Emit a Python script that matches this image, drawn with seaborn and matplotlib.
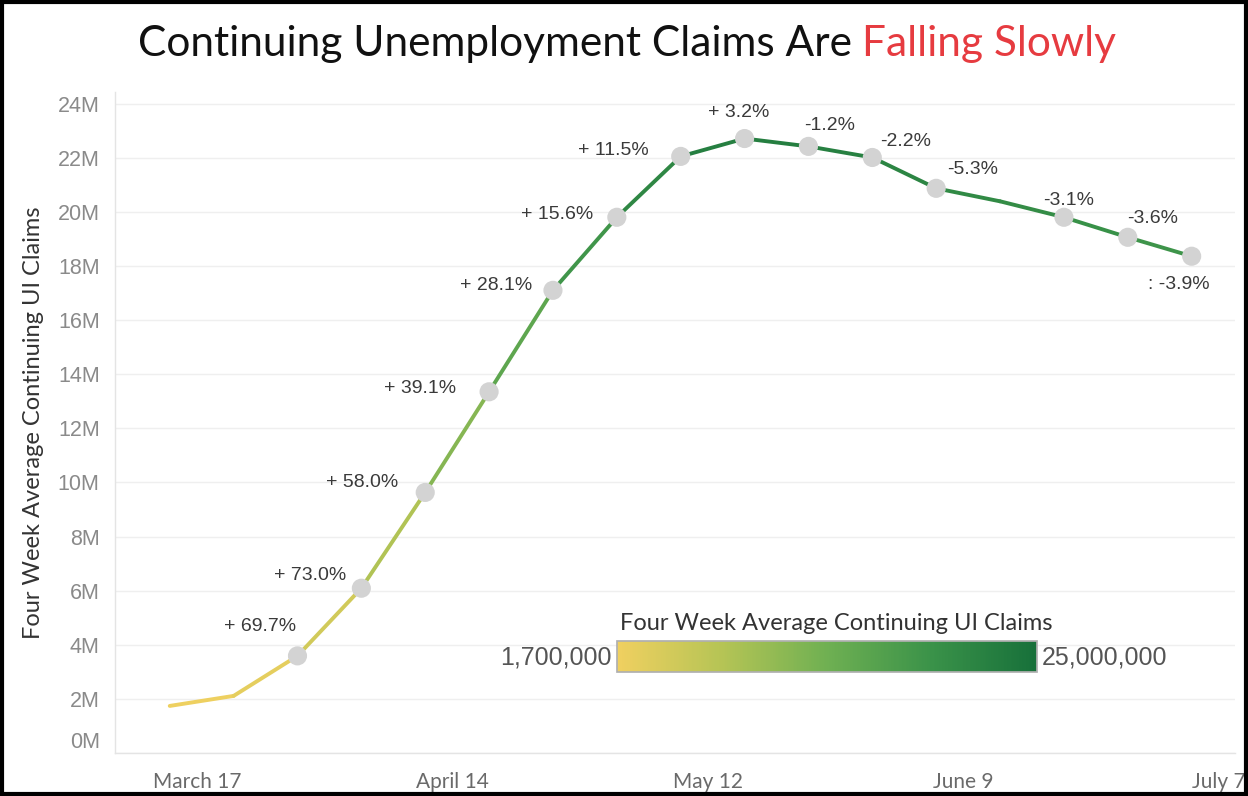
import numpy as np
import pandas as pd
import matplotlib
matplotlib.use('Agg')
import matplotlib.pyplot as plt
import matplotlib.dates as mdates
import matplotlib.ticker as mticker
from matplotlib.collections import LineCollection
from matplotlib.colors import LinearSegmentedColormap, Normalize
from matplotlib.patches import Rectangle
import seaborn as sns

# Weekly four week average continuing UI claims (millions)
weeks = pd.date_range('2020-03-14', periods=17, freq='7D')
claims = [1.74, 2.11, 3.59, 6.09, 9.63, 13.35, 17.10, 19.80, 22.05,
          22.71, 22.42, 22.01, 20.87, 20.39, 19.80, 19.06, 18.36]
pct_labels = [None, None, '+ 69.7%', '+ 73.0%', '+ 58.0%', '+ 39.1%',
              '+ 28.1%', '+ 15.6%', '+ 11.5%', '+ 3.2%', '-1.2%', '-2.2%',
              '-5.3%', None, '-3.1%', '-3.6%', ': -3.9%']
tick_dates = pd.date_range('2020-03-17', periods=5, freq='28D')
tick_names = ['March 17', 'April 14', 'May 12', 'June 9', 'July 7']
legend_min, legend_max = 1.7, 25.0

# label offsets in pixels (dx, dy), dy positive = up
label_offsets = [None, None, (-37, 29), (-51, 13), (-63, 10), (-69, 3),
                 (-57, 5), (-60, 3), (-67, 6), (-6, 26), (21, 21), (33, 16),
                 (36, 19), None, (5, 17), (25, 19), (-13, -28)]

df = pd.DataFrame({'week': weeks, 'claims': claims, 'label': pct_labels})

sns.set_theme(style='white')
plt.rcParams['font.family'] = ['Liberation Sans', 'DejaVu Sans']

cmap = LinearSegmentedColormap.from_list(
    'ylgn', ['#f0d060', '#b5c455', '#6fb052', '#3a9249', '#17703a'])
norm = Normalize(legend_min, legend_max)

fig = plt.figure(figsize=(12.48, 7.96), dpi=100)
ax = fig.add_axes([115 / 1248, 43 / 796, 1120 / 1248, 661 / 796])

# gradient coloured line, one segment per week
xnum = mdates.date2num(df['week'])
pts = np.column_stack([xnum, df['claims']])
segs = np.stack([pts[:-1], pts[1:]], axis=1)
seg_vals = (df['claims'].values[:-1] + df['claims'].values[1:]) / 2
lc = LineCollection(segs, colors=cmap(norm(seg_vals)), linewidths=2.8,
                    capstyle='round', joinstyle='round', zorder=2)
ax.add_collection(lc)

# grey markers where a change label exists
marked = df[df['label'].notna()]
sns.scatterplot(data=marked, x='week', y='claims', color='#d3d3d3', s=190,
                edgecolor='none', zorder=3, ax=ax)

for i, row in df.iterrows():
    if row['label'] is None:
        continue
    dx, dy = label_offsets[i]
    ax.annotate(row['label'], (mdates.date2num(row['week']), row['claims']),
                xytext=(dx, dy), textcoords='offset pixels', ha='center',
                va='center', fontsize=14, color='#3a3a3a')

ax.set_xlim(pd.Timestamp('2020-03-08'), pd.Timestamp('2020-07-08 18:00'))
ax.set_ylim(0, 24.43)
ax.set_yticks(range(0, 25, 2))
ax.yaxis.set_major_formatter(mticker.FuncFormatter(lambda v, p: f'{int(v)}M'))
ax.set_xticks(tick_dates)
ax.set_xticklabels(tick_names)
ax.xaxis.set_minor_locator(mticker.FixedLocator(
    mdates.date2num(pd.date_range('2020-03-17', '2020-07-07', freq='7D'))))

ax.grid(axis='y', color='#efefef', lw=1)
ax.set_axisbelow(True)
for s in ['top', 'right']:
    ax.spines[s].set_visible(False)
for s in ['left', 'bottom']:
    ax.spines[s].set_color('#e4e4e4')
    ax.spines[s].set_linewidth(1)

ax.tick_params(axis='y', length=0, pad=11, labelsize=15.5, labelcolor='#8a8a8a')
ax.tick_params(axis='x', which='major', length=6, width=1, color='#999999',
               pad=8, labelsize=15, labelcolor='#6a6a6a')
ax.tick_params(axis='x', which='minor', length=3, width=1, color='#aaaaaa')
for lab in ax.get_xticklabels():
    lab.set_family(['Lato', 'DejaVu Sans'])
ylabs = ax.get_yticklabels()
ylabs[0].set_verticalalignment('bottom')

ax.set_xlabel('')
ax.set_ylabel('Four Week Average Continuing UI Claims', fontsize=17,
              color='#333333', family=['Lato', 'DejaVu Sans'], labelpad=10)

# colour legend
cax = fig.add_axes([617 / 1248, 124 / 796, 420 / 1248, 31 / 796])
cb = fig.colorbar(plt.cm.ScalarMappable(norm=norm, cmap=cmap), cax=cax,
                  orientation='horizontal')
cb.set_ticks([])
cb.outline.set_edgecolor('#b0b0b0')
fig.text(620 / 1248, 1 - 623 / 796, 'Four Week Average Continuing UI Claims',
         ha='left', va='center', fontsize=17, color='#333333',
         family=['Lato', 'DejaVu Sans'])
fig.text(612 / 1248, 1 - 658 / 796, f'{int(legend_min * 1e6):,}', ha='right',
         va='center', fontsize=18, color='#555555')
fig.text(1042 / 1248, 1 - 658 / 796, f'{int(legend_max * 1e6):,}', ha='left',
         va='center', fontsize=18, color='#555555')

# two-colour title
r = fig.canvas.get_renderer()
t1 = fig.text(0, 1 - 44 / 796, 'Continuing Unemployment Claims Are ',
              fontsize=30.5, color='#111111', va='center',
              family=['Lato', 'DejaVu Sans'])
t2 = fig.text(0, 1 - 44 / 796, 'Falling Slowly', fontsize=30.5,
              color='#e63b40', va='center', family=['Lato', 'DejaVu Sans'])
w1 = t1.get_window_extent(r).width
w2 = t2.get_window_extent(r).width
x0 = (627 - (w1 + w2) / 2) / 1248
t1.set_x(x0)
t2.set_x(x0 + w1 / 1248)

fig.patches.append(Rectangle((0.002, 0.003), 0.996, 0.994, transform=fig.transFigure,
                             fill=False, edgecolor='black', lw=3))

fig.savefig('out.png', dpi=100)
